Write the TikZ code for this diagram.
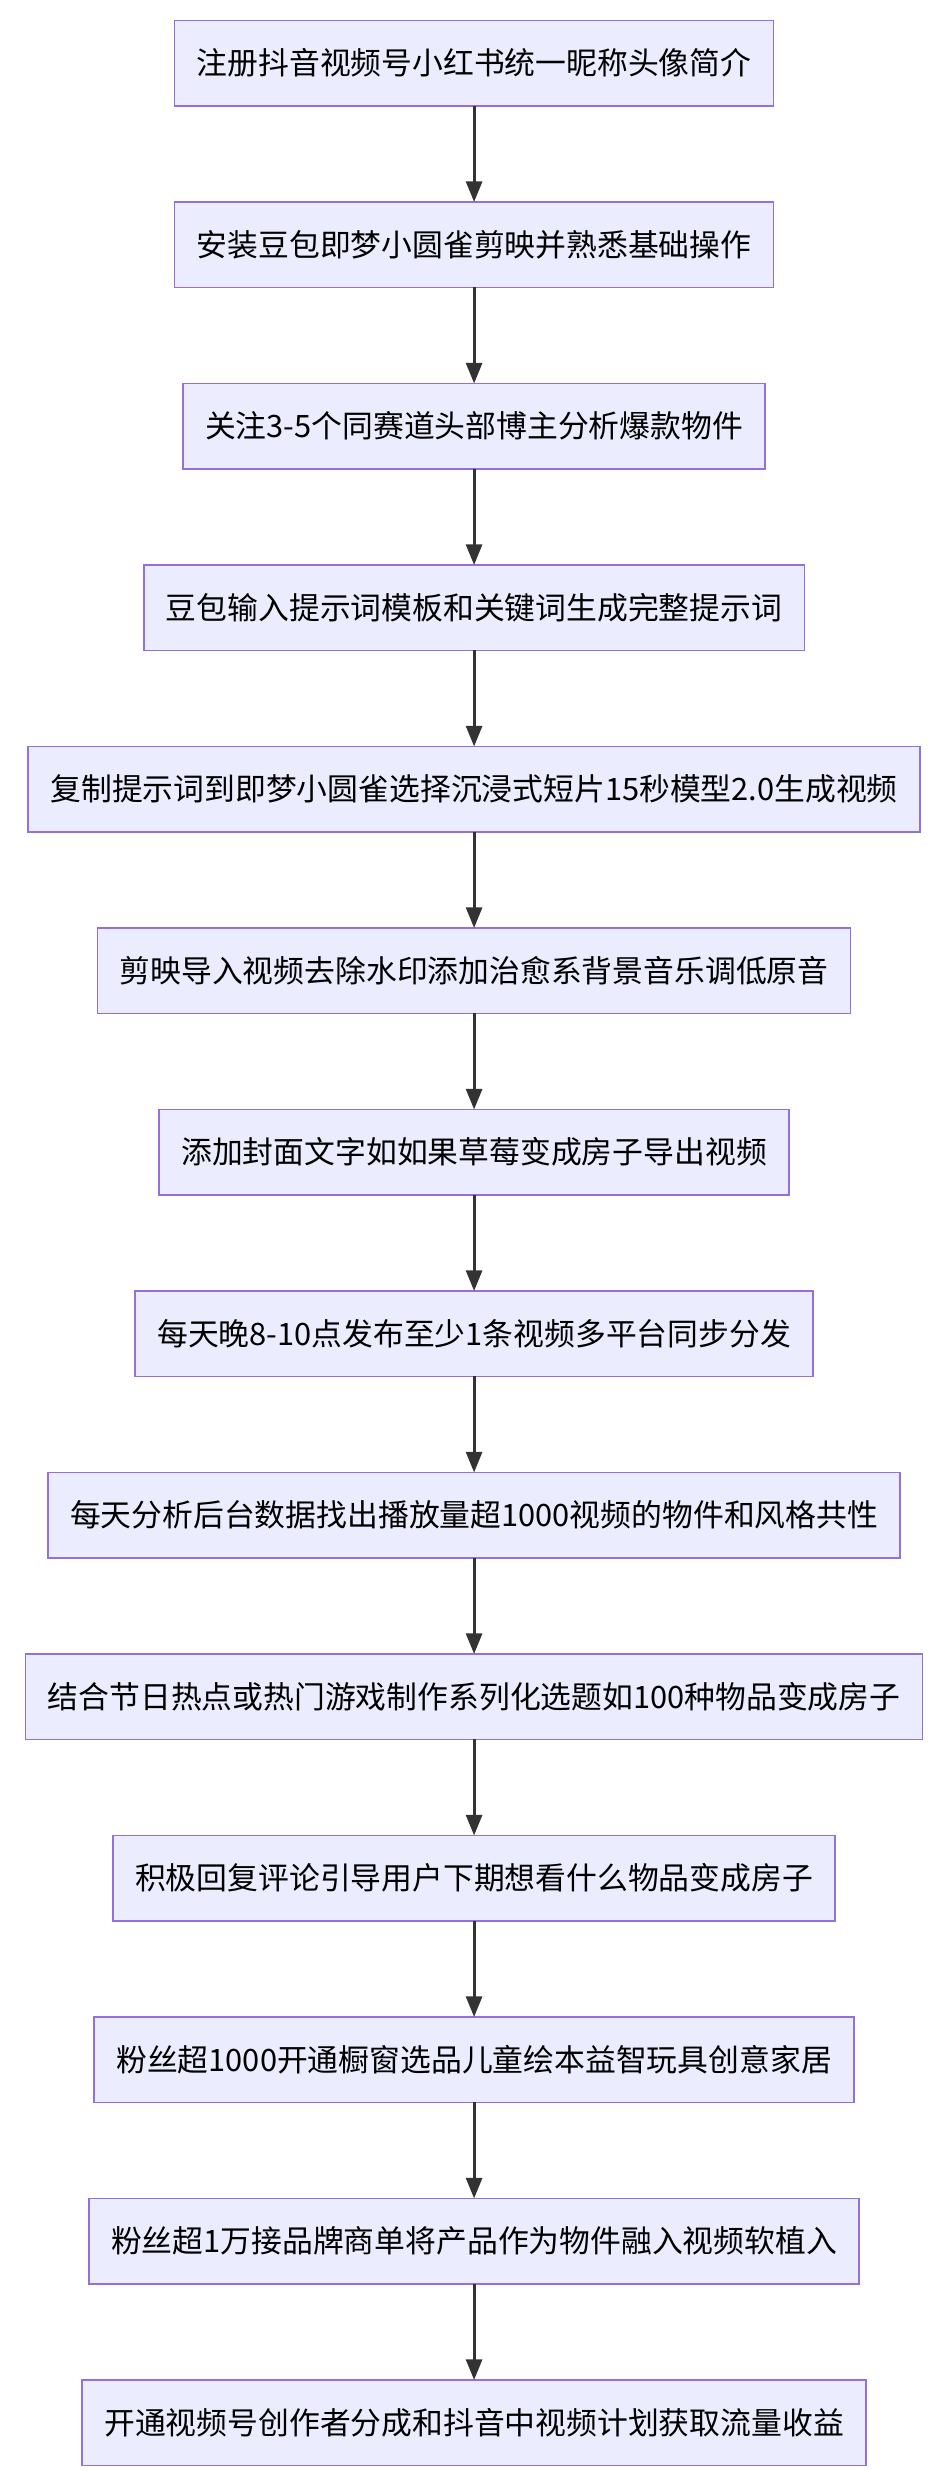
\documentclass[tikz,border=0pt]{standalone}
\usepackage{fontspec}
\setmainfont{Noto Sans CJK SC}
\usetikzlibrary{positioning, arrows.meta}
\definecolor{boxfill}{HTML}{ECECFF}
\definecolor{boxline}{HTML}{9370DB}
\definecolor{arrowcol}{HTML}{333333}
\tikzset{
  x=1pt, y=1pt,
  node distance=60.85pt,
  stepbox/.style={draw=boxline, fill=boxfill, line width=1pt, minimum height=54pt,
    inner xsep=14pt, inner ysep=0pt, outer sep=0pt,
    font=\fontsize{19.5}{22}\selectfont, text=black},
  flow/.style={-{Triangle[length=13pt,width=10pt]}, draw=arrowcol, line width=2pt},
}

\begin{document}
\begin{tikzpicture}
  \useasboundingbox (0,0) rectangle (600,-1563);
  \node[stepbox] (s1) at (300,-40) {注册抖音视频号小红书统一昵称头像简介};
  \node[stepbox,below=of s1] (s2) {安装豆包即梦小圆雀剪映并熟悉基础操作};
  \node[stepbox,below=of s2] (s3) {关注3-5个同赛道头部博主分析爆款物件};
  \node[stepbox,below=of s3] (s4) {豆包输入提示词模板和关键词生成完整提示词};
  \node[stepbox,below=of s4] (s5) {复制提示词到即梦小圆雀选择沉浸式短片15秒模型2.0生成视频};
  \node[stepbox,below=of s5] (s6) {剪映导入视频去除水印添加治愈系背景音乐调低原音};
  \node[stepbox,below=of s6] (s7) {添加封面文字如如果草莓变成房子导出视频};
  \node[stepbox,below=of s7] (s8) {每天晚8-10点发布至少1条视频多平台同步分发};
  \node[stepbox,below=of s8] (s9) {每天分析后台数据找出播放量超1000视频的物件和风格共性};
  \node[stepbox,below=of s9] (s10) {结合节日热点或热门游戏制作系列化选题如100种物品变成房子};
  \node[stepbox,below=of s10] (s11) {积极回复评论引导用户下期想看什么物品变成房子};
  \node[stepbox,below=of s11] (s12) {粉丝超1000开通橱窗选品儿童绘本益智玩具创意家居};
  \node[stepbox,below=of s12] (s13) {粉丝超1万接品牌商单将产品作为物件融入视频软植入};
  \node[stepbox,below=of s13] (s14) {开通视频号创作者分成和抖音中视频计划获取流量收益};

  \foreach \a/\b in {s1/s2,s2/s3,s3/s4,s4/s5,s5/s6,s6/s7,s7/s8,s8/s9,s9/s10,s10/s11,s11/s12,s12/s13,s13/s14}
    \draw[flow] (\a) -- (\b);
\end{tikzpicture}
\end{document}
